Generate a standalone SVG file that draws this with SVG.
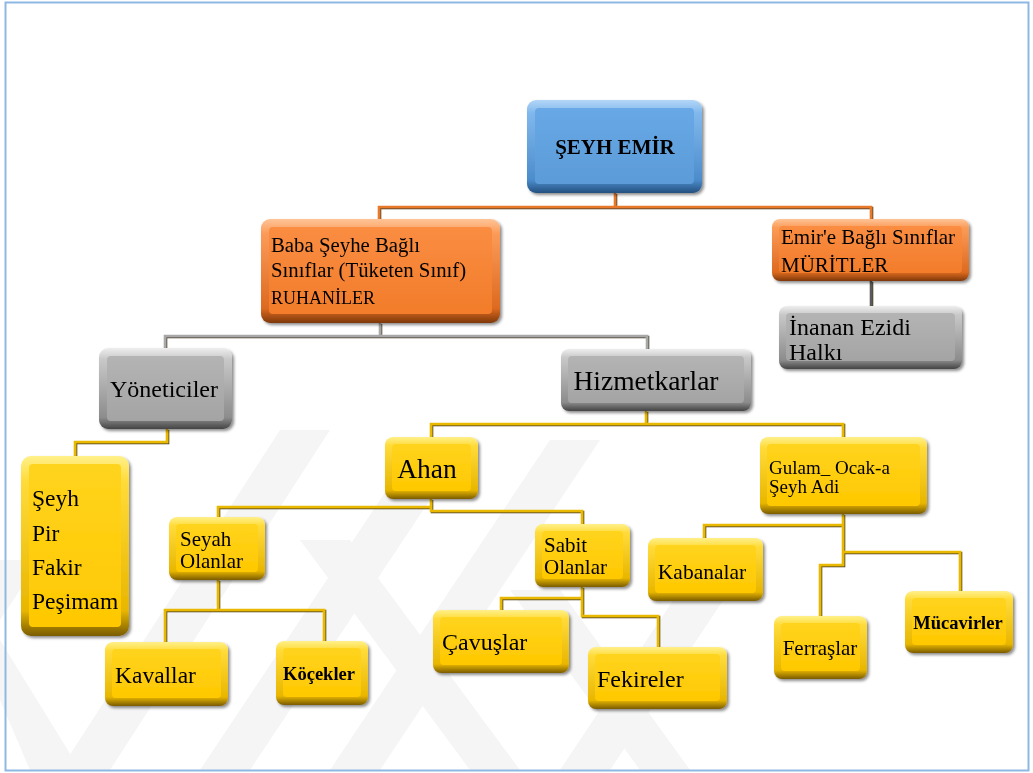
<svg xmlns="http://www.w3.org/2000/svg" width="1033" height="773" viewBox="0 0 1033 773">
<defs>
<linearGradient id="oY" x1="0" y1="0" x2="0" y2="1"><stop offset="0" stop-color="#fff08a"/><stop offset="0.14" stop-color="#ffdb3a"/><stop offset="0.86" stop-color="#e8b600"/><stop offset="1" stop-color="#7a5c00"/></linearGradient>
<linearGradient id="iY" x1="0" y1="0" x2="0" y2="1"><stop offset="0" stop-color="#ffd41e"/><stop offset="1" stop-color="#ffc800"/></linearGradient>
<linearGradient id="oB" x1="0" y1="0" x2="0" y2="1"><stop offset="0" stop-color="#b3d6f7"/><stop offset="0.14" stop-color="#80b8ec"/><stop offset="0.86" stop-color="#4c8ccc"/><stop offset="1" stop-color="#24507e"/></linearGradient>
<linearGradient id="iB" x1="0" y1="0" x2="0" y2="1"><stop offset="0" stop-color="#68a8e6"/><stop offset="1" stop-color="#5b9bd8"/></linearGradient>
<linearGradient id="oO" x1="0" y1="0" x2="0" y2="1"><stop offset="0" stop-color="#ffc497"/><stop offset="0.14" stop-color="#fb9b58"/><stop offset="0.86" stop-color="#dd6a1f"/><stop offset="1" stop-color="#7e380a"/></linearGradient>
<linearGradient id="iO" x1="0" y1="0" x2="0" y2="1"><stop offset="0" stop-color="#fa8d42"/><stop offset="1" stop-color="#f27c2a"/></linearGradient>
<linearGradient id="oG" x1="0" y1="0" x2="0" y2="1"><stop offset="0" stop-color="#eeeeee"/><stop offset="0.14" stop-color="#c8c8c8"/><stop offset="0.86" stop-color="#8c8c8c"/><stop offset="1" stop-color="#444444"/></linearGradient>
<linearGradient id="iG" x1="0" y1="0" x2="0" y2="1"><stop offset="0" stop-color="#b4b4b4"/><stop offset="1" stop-color="#a4a4a4"/></linearGradient>
<filter id="sh" x="-10%" y="-10%" width="125%" height="130%"><feGaussianBlur in="SourceAlpha" stdDeviation="1.5"/><feOffset dx="2" dy="2" result="b"/><feFlood flood-color="#000" flood-opacity="0.45"/><feComposite in2="b" operator="in"/><feMerge><feMergeNode/><feMergeNode in="SourceGraphic"/></feMerge></filter>
<filter id="ls" filterUnits="userSpaceOnUse" x="0" y="0" width="1033" height="773"><feOffset in="SourceAlpha" dx="1.2" dy="1.2" result="o"/><feFlood flood-color="#3a2c00" flood-opacity="0.9"/><feComposite in2="o" operator="in"/><feMerge><feMergeNode/><feMergeNode in="SourceGraphic"/></feMerge></filter>
</defs>
<style>
.t{font-family:"Liberation Serif","Times New Roman",serif;fill:#000}
.b{font-weight:bold}
.oy{fill:url(#oY)}.iy{fill:url(#iY)}
.ob{fill:url(#oB)}.ib{fill:url(#iB)}
.oo{fill:url(#oO)}.io{fill:url(#iO)}
.og{fill:url(#oG)}.ig{fill:url(#iG)}
.n{filter:url(#sh)}
.c{fill:none;stroke-width:2.6;filter:url(#ls)}
.cy{stroke:#e9b800}.co{stroke:#e8782c}.cg{stroke:#a8a8a8}.cd{stroke:#5a5a5a}
.wm{fill:#f5f5f5}
</style>
<rect x="0" y="0" width="1033" height="773" fill="#fff"/>
<g id="watermark">
<polygon class="wm" points="0,560 40,560 0,620"/>
<polygon class="wm" points="60,770 110,770 330,430 280,430"/>
<polygon class="wm" points="0,700 30,770 80,770 0,640"/>
<polygon class="wm" points="200,770 250,770 450,470 400,470"/>
<polygon class="wm" points="330,770 380,770 600,440 550,440"/>
<polygon class="wm" points="470,770 520,770 350,540 300,540"/>
<polygon class="wm" points="560,770 610,770 730,590 680,590"/>
<polygon class="wm" points="640,770 690,770 560,590 510,590"/>
</g>
<rect x="5.5" y="2.5" width="1023" height="768" fill="none" stroke="#8fb7e3" stroke-width="2"/>
<g id="connectors">
<path class="c co" d="M615,193V207M379,219V207H871V219"/>
<path class="c cg" d="M380,323V336M165,348V336H647V349"/>
<path class="c cd" d="M871,281V306"/>
<path class="c cy" d="M167,429V442H75V456"/>
<path class="c cy" d="M646,411V424M431,437V424H843V437"/>
<path class="c cy" d="M431,499V507H218V517M431,507V511H582V524"/>
<path class="c cy" d="M218,580V610M165,642V610H324V641"/>
<path class="c cy" d="M582,587V616H658V647M582,598H501V610"/>
<path class="c cy" d="M843,514V565H820V616M843,525H704V538M843,552H960V591"/>
</g>
<g id="n-seyh-emir" class="n"><rect class="ob" x="527" y="100" width="175" height="93" rx="9"/><rect class="ib" x="535" y="108" width="159" height="76" rx="4"/><text class="t b" x="615" y="154" font-size="21" text-anchor="middle">ŞEYH EMİR</text></g>
<g id="n-baba" class="n"><rect class="oo" x="261" y="219" width="239" height="104" rx="9"/><rect class="io" x="269" y="227" width="223" height="87" rx="4"/><text class="t" x="271" y="252" font-size="20.8">Baba Şeyhe Bağlı</text><text class="t" x="271" y="277" font-size="20.8">Sınıflar (Tüketen Sınıf)</text><text class="t" x="271" y="304" font-size="18">RUHANİLER</text></g>
<g id="n-emire" class="n"><rect class="oo" x="772" y="219" width="197" height="62" rx="8"/><rect class="io" x="779" y="226" width="183" height="47" rx="4"/><text class="t" x="781" y="244" font-size="21">Emir'e Bağlı Sınıflar</text><text class="t" x="781" y="272" font-size="21">MÜRİTLER</text></g>
<g id="n-inanan" class="n"><rect class="og" x="779" y="306" width="183" height="63" rx="8"/><rect class="ig" x="786" y="313" width="169" height="48" rx="4"/><text class="t" x="789" y="335" font-size="24">İnanan Ezidi</text><text class="t" x="789" y="360" font-size="24">Halkı</text></g>
<g id="n-yoneticiler" class="n"><rect class="og" x="99" y="348" width="133" height="81" rx="9"/><rect class="ig" x="107" y="356" width="117" height="65" rx="4"/><text class="t" x="164" y="397" font-size="24" text-anchor="middle">Yöneticiler</text></g>
<g id="n-hizmetkarlar" class="n"><rect class="og" x="561" y="349" width="190" height="62" rx="8"/><rect class="ig" x="568" y="356" width="176" height="47" rx="4"/><text class="t" x="646" y="390" font-size="27.5" text-anchor="middle">Hizmetkarlar</text></g>
<g id="n-seyh-list" class="n"><rect class="oy" x="21" y="456" width="108" height="180" rx="10"/><rect class="iy" x="29" y="464" width="92" height="163" rx="4"/><text class="t" x="32" y="506" font-size="23.5">Şeyh</text><text class="t" x="32" y="541" font-size="23.5">Pir</text><text class="t" x="32" y="575" font-size="23.5">Fakir</text><text class="t" x="32" y="609" font-size="23.5">Peşimam</text></g>
<g id="n-ahan" class="n"><rect class="oy" x="385" y="437" width="93" height="62" rx="8"/><rect class="iy" x="392" y="444" width="79" height="47" rx="4"/><text class="t" x="427" y="478" font-size="27.5" text-anchor="middle">Ahan</text></g>
<g id="n-gulam" class="n"><rect class="oy" x="760" y="437" width="167" height="77" rx="8"/><rect class="iy" x="767" y="444" width="153" height="62" rx="4"/><text class="t" x="769" y="474" font-size="19">Gulam_ Ocak-a</text><text class="t" x="769" y="493" font-size="19">Şeyh Adi</text></g>
<g id="n-seyah" class="n"><rect class="oy" x="169" y="517" width="96" height="63" rx="8"/><rect class="iy" x="176" y="524" width="82" height="48" rx="4"/><text class="t" x="180" y="546" font-size="21">Seyah</text><text class="t" x="180" y="568" font-size="21">Olanlar</text></g>
<g id="n-sabit" class="n"><rect class="oy" x="535" y="524" width="95" height="63" rx="8"/><rect class="iy" x="542" y="531" width="81" height="48" rx="4"/><text class="t" x="544" y="552" font-size="21">Sabit</text><text class="t" x="544" y="574" font-size="21">Olanlar</text></g>
<g id="n-kabanalar" class="n"><rect class="oy" x="648" y="538" width="115" height="63" rx="8"/><rect class="iy" x="655" y="545" width="101" height="48" rx="4"/><text class="t" x="702" y="579" font-size="21.5" text-anchor="middle">Kabanalar</text></g>
<g id="n-kavallar" class="n"><rect class="oy" x="105" y="642" width="123" height="64" rx="8"/><rect class="iy" x="112" y="649" width="109" height="49" rx="4"/><text class="t" x="115" y="683" font-size="23.5">Kavallar</text></g>
<g id="n-kocekler" class="n"><rect class="oy" x="276" y="641" width="92" height="64" rx="8"/><rect class="iy" x="283" y="648" width="78" height="49" rx="4"/><text class="t b" x="319" y="680" font-size="18.5" text-anchor="middle">Köçekler</text></g>
<g id="n-cavuslar" class="n"><rect class="oy" x="433" y="610" width="136" height="63" rx="8"/><rect class="iy" x="440" y="617" width="122" height="48" rx="4"/><text class="t" x="442" y="650" font-size="24">Çavuşlar</text></g>
<g id="n-fekireler" class="n"><rect class="oy" x="588" y="647" width="139" height="62" rx="8"/><rect class="iy" x="595" y="654" width="125" height="47" rx="4"/><text class="t" x="597" y="687" font-size="24">Fekireler</text></g>
<g id="n-ferraslar" class="n"><rect class="oy" x="774" y="616" width="93" height="63" rx="8"/><rect class="iy" x="781" y="623" width="79" height="48" rx="4"/><text class="t" x="820" y="655" font-size="21" text-anchor="middle">Ferraşlar</text></g>
<g id="n-mucavirler" class="n"><rect class="oy" x="905" y="591" width="108" height="62" rx="8"/><rect class="iy" x="912" y="598" width="94" height="47" rx="4"/><text class="t b" x="958" y="629" font-size="18.5" text-anchor="middle">Mücavirler</text></g>
</svg>
